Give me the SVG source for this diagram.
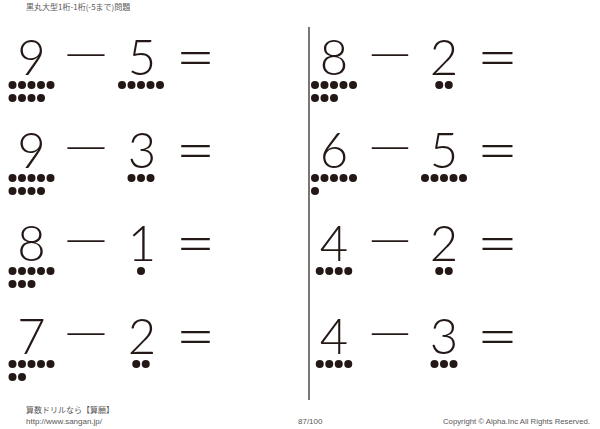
<svg xmlns="http://www.w3.org/2000/svg" width="600" height="429" viewBox="0 0 600 429">
<style>
.hd{font-family:"Noto Sans CJK JP","Liberation Sans",sans-serif;font-size:8px;fill:#595757}
.ft{font-family:"Liberation Sans","Noto Sans CJK JP",sans-serif;font-size:8px;fill:#595757}
.dg{font-family:Lato,"Liberation Sans",sans-serif;font-weight:300;font-size:49px;fill:#231815;text-anchor:middle}
.mn{font-family:Lato,"Liberation Sans",sans-serif;font-weight:300;font-size:49px;fill:#231815;text-anchor:middle}
.eq{font-family:Lato,"Liberation Sans",sans-serif;font-weight:300;font-size:49px;fill:#231815;text-anchor:middle}
.d{fill:#231815}
</style>
<defs>
<circle id="dot" r="4" class="d"/>
</defs>
<rect width="600" height="429" fill="#ffffff"/>
<text class="hd" x="26" y="10">黒丸大型1桁-1桁(-5まで)問題</text>
<line x1="309" y1="27" x2="309" y2="400" stroke="#231815" stroke-width="1.2"/>

<g id="q1">
<text class="dg" x="31.5" y="75">9</text>
<text class="mn" x="86" y="72" textLength="52" lengthAdjust="spacingAndGlyphs">−</text>
<text class="dg" x="142" y="75">5</text>
<text class="eq" transform="translate(195.5 56.5) scale(1 1.26)" x="0" y="18" textLength="40" lengthAdjust="spacingAndGlyphs">=</text>
<use href="#dot" x="12.5" y="85"/><use href="#dot" x="22" y="85"/><use href="#dot" x="31.5" y="85"/><use href="#dot" x="41" y="85"/><use href="#dot" x="50.5" y="85"/>
<use href="#dot" x="12.5" y="98"/><use href="#dot" x="22" y="98"/><use href="#dot" x="31.5" y="98"/><use href="#dot" x="41" y="98"/>
<use href="#dot" x="122" y="85"/><use href="#dot" x="131.5" y="85"/><use href="#dot" x="141" y="85"/><use href="#dot" x="150.5" y="85"/><use href="#dot" x="160" y="85"/>
</g>

<g id="q2">
<text class="dg" x="31.5" y="168">9</text>
<text class="mn" x="86" y="165" textLength="52" lengthAdjust="spacingAndGlyphs">−</text>
<text class="dg" x="142" y="168">3</text>
<text class="eq" transform="translate(195.5 149.5) scale(1 1.26)" x="0" y="18" textLength="40" lengthAdjust="spacingAndGlyphs">=</text>
<use href="#dot" x="12.5" y="178"/><use href="#dot" x="22" y="178"/><use href="#dot" x="31.5" y="178"/><use href="#dot" x="41" y="178"/><use href="#dot" x="50.5" y="178"/>
<use href="#dot" x="12.5" y="191"/><use href="#dot" x="22" y="191"/><use href="#dot" x="31.5" y="191"/><use href="#dot" x="41" y="191"/>
<use href="#dot" x="131.5" y="178"/><use href="#dot" x="141" y="178"/><use href="#dot" x="150.5" y="178"/>
</g>

<g id="q3">
<text class="dg" x="31.5" y="261">8</text>
<text class="mn" x="86" y="258" textLength="52" lengthAdjust="spacingAndGlyphs">−</text>
<text class="dg" x="142" y="261">1</text>
<text class="eq" transform="translate(195.5 242.5) scale(1 1.26)" x="0" y="18" textLength="40" lengthAdjust="spacingAndGlyphs">=</text>
<use href="#dot" x="12.5" y="271"/><use href="#dot" x="22" y="271"/><use href="#dot" x="31.5" y="271"/><use href="#dot" x="41" y="271"/><use href="#dot" x="50.5" y="271"/>
<use href="#dot" x="12.5" y="284"/><use href="#dot" x="22" y="284"/><use href="#dot" x="31.5" y="284"/>
<use href="#dot" x="141" y="271"/>
</g>

<g id="q4">
<text class="dg" x="31.5" y="354">7</text>
<text class="mn" x="86" y="351" textLength="52" lengthAdjust="spacingAndGlyphs">−</text>
<text class="dg" x="142" y="354">2</text>
<text class="eq" transform="translate(195.5 335.5) scale(1 1.26)" x="0" y="18" textLength="40" lengthAdjust="spacingAndGlyphs">=</text>
<use href="#dot" x="12.5" y="364"/><use href="#dot" x="22" y="364"/><use href="#dot" x="31.5" y="364"/><use href="#dot" x="41" y="364"/><use href="#dot" x="50.5" y="364"/>
<use href="#dot" x="12.5" y="377"/><use href="#dot" x="22" y="377"/>
<use href="#dot" x="136.25" y="364"/><use href="#dot" x="145.75" y="364"/>
</g>

<g id="q5">
<text class="dg" x="334" y="75">8</text>
<text class="mn" x="390" y="72" textLength="51" lengthAdjust="spacingAndGlyphs">−</text>
<text class="dg" x="444" y="75">2</text>
<text class="eq" transform="translate(497.5 56.5) scale(1 1.26)" x="0" y="18" textLength="42" lengthAdjust="spacingAndGlyphs">=</text>
<use href="#dot" x="315" y="85"/><use href="#dot" x="324.5" y="85"/><use href="#dot" x="334" y="85"/><use href="#dot" x="343.5" y="85"/><use href="#dot" x="353" y="85"/>
<use href="#dot" x="315" y="98"/><use href="#dot" x="324.5" y="98"/><use href="#dot" x="334" y="98"/>
<use href="#dot" x="439.25" y="85"/><use href="#dot" x="448.75" y="85"/>
</g>

<g id="q6">
<text class="dg" x="334" y="168">6</text>
<text class="mn" x="390" y="165" textLength="51" lengthAdjust="spacingAndGlyphs">−</text>
<text class="dg" x="444" y="168">5</text>
<text class="eq" transform="translate(497.5 149.5) scale(1 1.26)" x="0" y="18" textLength="42" lengthAdjust="spacingAndGlyphs">=</text>
<use href="#dot" x="315" y="178"/><use href="#dot" x="324.5" y="178"/><use href="#dot" x="334" y="178"/><use href="#dot" x="343.5" y="178"/><use href="#dot" x="353" y="178"/>
<use href="#dot" x="315" y="191"/>
<use href="#dot" x="425" y="178"/><use href="#dot" x="434.5" y="178"/><use href="#dot" x="444" y="178"/><use href="#dot" x="453.5" y="178"/><use href="#dot" x="463" y="178"/>
</g>

<g id="q7">
<text class="dg" x="334" y="261">4</text>
<text class="mn" x="390" y="258" textLength="51" lengthAdjust="spacingAndGlyphs">−</text>
<text class="dg" x="444" y="261">2</text>
<text class="eq" transform="translate(497.5 242.5) scale(1 1.26)" x="0" y="18" textLength="42" lengthAdjust="spacingAndGlyphs">=</text>
<use href="#dot" x="319.75" y="271"/><use href="#dot" x="329.25" y="271"/><use href="#dot" x="338.75" y="271"/><use href="#dot" x="348.25" y="271"/>
<use href="#dot" x="439.25" y="271"/><use href="#dot" x="448.75" y="271"/>
</g>

<g id="q8">
<text class="dg" x="334" y="354">4</text>
<text class="mn" x="390" y="351" textLength="51" lengthAdjust="spacingAndGlyphs">−</text>
<text class="dg" x="444" y="354">3</text>
<text class="eq" transform="translate(497.5 335.5) scale(1 1.26)" x="0" y="18" textLength="42" lengthAdjust="spacingAndGlyphs">=</text>
<use href="#dot" x="319.75" y="364"/><use href="#dot" x="329.25" y="364"/><use href="#dot" x="338.75" y="364"/><use href="#dot" x="348.25" y="364"/>
<use href="#dot" x="434.5" y="364"/><use href="#dot" x="444" y="364"/><use href="#dot" x="453.5" y="364"/>
</g>

<g id="footer">
<text class="hd" x="26" y="413">算数ドリルなら【算願】</text>
<text class="ft" x="26" y="424">http://www.sangan.jp/</text>
<text class="ft" x="298" y="424">87/100</text>
<text class="ft" x="443" y="424" textLength="147" lengthAdjust="spacingAndGlyphs">Copyright © Alpha.Inc All Rights Reserved.</text>
</g>
</svg>
